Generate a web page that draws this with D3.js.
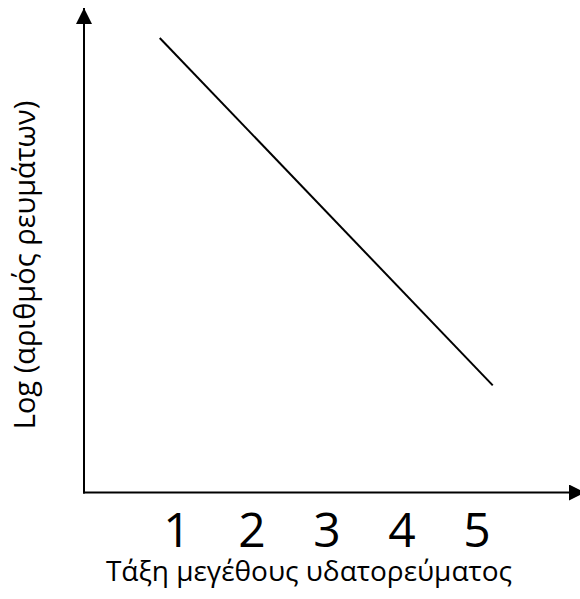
<!DOCTYPE html>
<html>
<head>
<meta charset="utf-8">
<script src="https://d3js.org/d3.v7.min.js"></script>
<style>
body { margin: 0; background: #fff; }
text { font-family: "Open Sans", "Liberation Sans", sans-serif; fill: #000; }
</style>
</head>
<body>
<svg class="chart"></svg>
<script>
// stream order on x, log(number of streams) on y
var orders = [1, 2, 3, 4, 5];
var lineX = [0.77, 5.21];
var lineY = [9.42, 2.22];
var xTitle = "Τάξη μεγέθους υδατορεύματος";
var yTitle = "Log (αριθμός ρευμάτων)";

var drawChart = function(w, h, c)
{
  var svg = d3.select(c)
              .attr("width", w)
              .attr("height", h);

  var margins = { left: 84, top: 10, bottom: 107 };
  var axisY = h - margins.bottom + 0.5;

  var xScale = d3.scaleLinear()
                 .domain([1, 5])
                 .range([177, 477]);
  var yScale = d3.scaleLinear()
                 .domain([0, 10])
                 .range([axisY, margins.top]);

  var defs = svg.append("defs");
  defs.append("marker")
      .attr("id", "arrow")
      .attr("viewBox", "0 0 10 10")
      .attr("refX", 10).attr("refY", 5)
      .attr("markerWidth", 8).attr("markerHeight", 8)
      .attr("markerUnits", "strokeWidth")
      .attr("orient", "auto")
      .append("path")
      .attr("d", "M0,0 L10,5 L0,10 Z")
      .attr("fill", "#000");

  // axes with arrows
  svg.append("line")
     .attr("x1", margins.left).attr("y1", axisY + 1)
     .attr("x2", margins.left).attr("y2", 8)
     .attr("stroke", "#000").attr("stroke-width", 2)
     .attr("marker-end", "url(#arrow)");
  svg.append("line")
     .attr("x1", margins.left - 1).attr("y1", axisY)
     .attr("x2", 585).attr("y2", axisY)
     .attr("stroke", "#000").attr("stroke-width", 2)
     .attr("marker-end", "url(#arrow)");

  var pts = lineX.map(function(d, i) { return { x: d, y: lineY[i] }; });
  var drawLine = d3.line()
                   .x(function(d) { return xScale(d.x); })
                   .y(function(d) { return yScale(d.y); });
  svg.append("path")
     .datum(pts)
     .attr("d", drawLine)
     .attr("fill", "none")
     .attr("stroke", "#000")
     .attr("stroke-width", 2);

  svg.append("g").selectAll("text")
     .data(orders)
     .enter().append("text")
     .attr("x", function(d) { return xScale(d); })
     .attr("y", 547)
     .attr("text-anchor", "middle")
     .style("font-size", "48px")
     .text(function(d) { return d; });

  svg.append("text")
     .attr("x", 309).attr("y", 581)
     .attr("text-anchor", "middle")
     .style("font-size", "28px")
     .text(xTitle);

  svg.append("text")
     .attr("transform", "translate(35,265) rotate(-90)")
     .attr("text-anchor", "middle")
     .style("font-size", "29px")
     .text(yTitle);
}

drawChart(580, 599, ".chart");
</script>
</body>
</html>
